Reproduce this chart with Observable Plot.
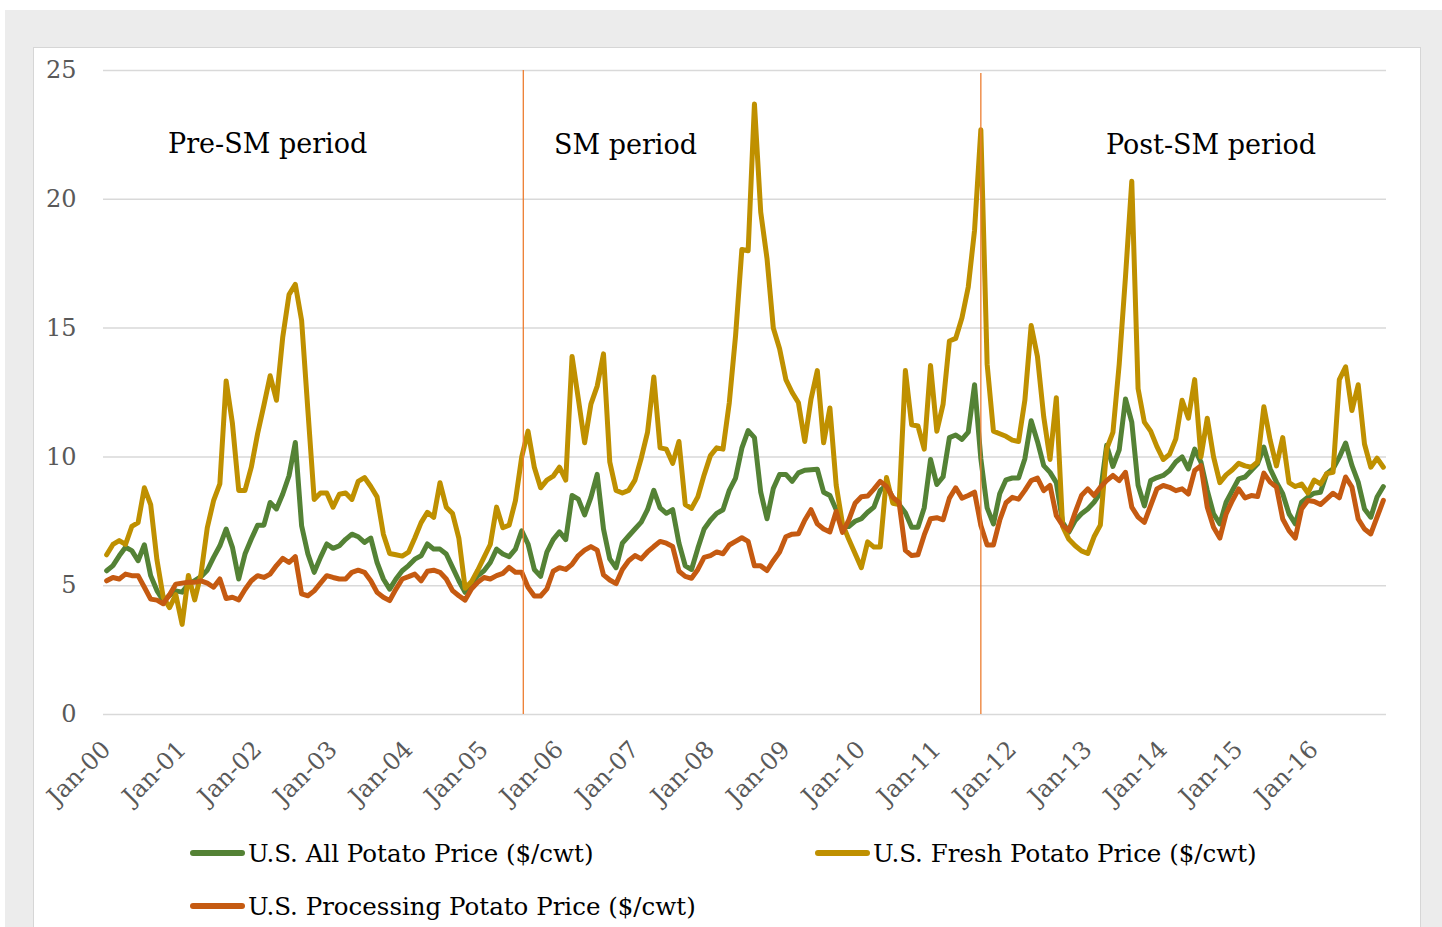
<!DOCTYPE html>
<html>
<head>
<meta charset="utf-8">
<script src="https://cdn.jsdelivr.net/npm/d3@7"></script>
<script src="https://cdn.jsdelivr.net/npm/@observablehq/plot@0.6"></script>
<style>
  html, body { margin: 0; padding: 0; background: #ffffff; }
  #page { position: relative; width: 1442px; height: 927px; overflow: hidden; font-family: "DejaVu Serif", serif; }
  #bg { position: absolute; left: 5px; top: 10px; right: 0; bottom: 0; background: #ececec; }
  #panel { position: absolute; left: 33px; top: 47px; width: 1388px; height: 920px; background: #ffffff; border: 1.5px solid #d6d6d6; box-sizing: border-box; }
  #chart { position: absolute; left: 0; top: 0; }
  .leg { position: absolute; height: 34px; display: flex; align-items: center; font-size: 24.5px; color: #000; white-space: nowrap; }
  .sw { width: 55px; height: 6px; border-radius: 3px; margin-right: 3px; }
</style>
</head>
<body>
<div id="page">
  <div id="bg"></div>
  <div id="panel"></div>
  <div id="chart"></div>
  <div id="legend"></div>
</div>
<script>
// ---- data (monthly, Jan-2000 .. Dec-2016), one row per year ----
const startYear = 2000;
const tickLabels = ["Jan-00","Jan-01","Jan-02","Jan-03","Jan-04","Jan-05","Jan-06","Jan-07","Jan-08",
                    "Jan-09","Jan-10","Jan-11","Jan-12","Jan-13","Jan-14","Jan-15","Jan-16"];
const yTicks = [0, 5, 10, 15, 20, 25];

const seriesNames = ["U.S. All Potato Price ($/cwt)", "U.S. Fresh Potato Price ($/cwt)", "U.S. Processing Potato Price ($/cwt)"];
const seriesColors = ["#548235", "#bf9000", "#c55a11"];

const allPrice = [
  5.58, 5.78, 6.16, 6.49, 6.36, 5.97, 6.59, 5.39, 4.81, 4.42, 4.62, 4.8,
  4.75, 5.05, 5.2, 5.35, 5.6, 6.1, 6.55, 7.2, 6.49, 5.26, 6.23, 6.81,
  7.35, 7.35, 8.23, 7.98, 8.56, 9.27, 10.56, 7.33, 6.23, 5.52, 6.1, 6.62,
  6.45, 6.55, 6.8, 7.0, 6.9, 6.68, 6.85, 5.9, 5.26, 4.87, 5.26, 5.58,
  5.78, 6.03, 6.16, 6.62, 6.42, 6.42, 6.23, 5.71, 5.19, 4.74, 5.06, 5.39,
  5.58, 5.9, 6.42, 6.23, 6.13, 6.42, 7.13, 6.62, 5.63, 5.36, 6.3, 6.79,
  7.09, 6.79, 8.5, 8.36, 7.75, 8.43, 9.32, 7.2, 6.04, 5.7, 6.65, 6.93,
  7.2, 7.47, 7.95, 8.7, 8.02, 7.81, 7.95, 6.65, 5.77, 5.63, 6.45, 7.2,
  7.54, 7.81, 7.95, 8.7, 9.18, 10.34, 11.02, 10.75, 8.63, 7.6, 8.77, 9.32,
  9.32, 9.05, 9.38, 9.48, 9.5, 9.52, 8.63, 8.5, 7.95, 7.3, 7.3, 7.5,
  7.6, 7.85, 8.05, 8.7, 8.9, 8.4, 8.15, 7.83, 7.27, 7.27, 8.03, 9.9,
  8.93, 9.23, 10.75, 10.85, 10.68, 10.96, 12.8, 9.93, 8.02, 7.4, 8.57, 9.11,
  9.18, 9.18, 9.93, 11.4, 10.6, 9.66, 9.4, 9.0, 7.46, 7.08, 7.53, 7.79,
  7.98, 8.24, 8.6, 10.45, 9.63, 10.27, 12.25, 11.35, 8.9, 8.1, 9.08, 9.2,
  9.28, 9.47, 9.8, 10.0, 9.53, 10.3, 9.8, 8.7, 7.79, 7.4, 8.24, 8.7,
  9.15, 9.22, 9.47, 9.73, 10.38, 9.54, 9.02, 8.57, 7.79, 7.4, 8.24, 8.44,
  8.59, 8.63, 9.35, 9.54, 9.99, 10.54, 9.67, 9.02, 7.98, 7.66, 8.44, 8.85
];

const freshPrice = [
  6.2, 6.6, 6.75, 6.6, 7.3, 7.45, 8.8, 8.15, 6.0, 4.55, 4.15, 4.65,
  3.5, 5.4, 4.45, 5.45, 7.25, 8.3, 8.95, 12.95, 11.3, 8.7, 8.7, 9.6,
  10.9, 12.0, 13.15, 12.2, 14.65, 16.3, 16.7, 15.3, 11.8, 8.35, 8.6, 8.6,
  8.05, 8.55, 8.6, 8.35, 9.05, 9.2, 8.85, 8.45, 7.0, 6.25, 6.2, 6.15,
  6.3, 6.85, 7.45, 7.85, 7.65, 9.0, 8.05, 7.8, 6.85, 4.9, 5.15, 5.6,
  6.1, 6.6, 8.05, 7.25, 7.35, 8.3, 10.0, 11.0, 9.6, 8.8, 9.1, 9.25,
  9.6, 9.1, 13.9, 12.25, 10.55, 12.05, 12.75, 14.0, 9.8, 8.7, 8.6, 8.7,
  9.1, 9.95, 10.95, 13.1, 10.35, 10.3, 9.75, 10.6, 8.15, 8.0, 8.45, 9.3,
  10.05, 10.35, 10.3, 12.1, 14.7, 18.05, 18.0, 23.7, 19.5, 17.7, 15.0, 14.2,
  13.0, 12.5, 12.1, 10.6, 12.25, 13.35, 10.55, 11.9, 8.9, 7.4, 6.8, 6.25,
  5.7, 6.7, 6.5, 6.5, 9.2, 8.2, 8.15, 13.35, 11.25, 11.2, 10.3, 13.55,
  11.0, 12.05, 14.5, 14.6, 15.4, 16.6, 18.8, 22.7, 13.6, 11.0, 10.9, 10.8,
  10.65, 10.6, 12.2, 15.1, 13.9, 11.55, 9.9, 12.3, 7.3, 6.8, 6.55, 6.35,
  6.25, 6.9, 7.35, 10.3, 10.95, 13.6, 17.0, 20.7, 12.65, 11.35, 11.0, 10.4,
  9.9, 10.1, 10.7, 12.2, 11.5, 13.0, 10.0, 11.5, 10.0, 9.0, 9.3, 9.5,
  9.75, 9.65, 9.6, 9.8, 11.95, 10.65, 9.65, 10.75, 9.0, 8.85, 8.95, 8.6,
  9.1, 8.95, 9.35, 9.4, 13.0, 13.5, 11.8, 12.8, 10.5, 9.6, 9.95, 9.6
];

const processingPrice = [
  5.19, 5.32, 5.26, 5.45, 5.39, 5.39, 4.94, 4.48, 4.44, 4.3, 4.65, 5.06,
  5.1, 5.13, 5.13, 5.19, 5.1, 4.94, 5.26, 4.5, 4.55, 4.45, 4.85, 5.19,
  5.39, 5.32, 5.45, 5.78, 6.06, 5.9, 6.13, 4.68, 4.61, 4.8, 5.1, 5.39,
  5.32, 5.26, 5.26, 5.52, 5.6, 5.52, 5.19, 4.74, 4.55, 4.42, 4.87, 5.26,
  5.35, 5.45, 5.19, 5.56, 5.6, 5.52, 5.26, 4.81, 4.61, 4.44, 4.87, 5.13,
  5.32, 5.26, 5.39, 5.48, 5.71, 5.52, 5.52, 4.94, 4.6, 4.6, 4.88, 5.56,
  5.7, 5.63, 5.83, 6.17, 6.38, 6.52, 6.38, 5.42, 5.22, 5.08, 5.63, 5.97,
  6.17, 6.04, 6.31, 6.52, 6.72, 6.65, 6.52, 5.56, 5.36, 5.29, 5.63, 6.1,
  6.17, 6.31, 6.24, 6.58, 6.72, 6.86, 6.72, 5.77, 5.77, 5.59, 5.97, 6.31,
  6.9, 7.0, 7.02, 7.54, 7.95, 7.4, 7.2, 7.09, 7.88, 7.07, 7.55, 8.2,
  8.45, 8.48, 8.75, 9.05, 8.85, 8.43, 8.23, 6.37, 6.17, 6.2, 6.97, 7.6,
  7.64, 7.56, 8.4, 8.8, 8.4, 8.5, 8.63, 7.34, 6.58, 6.58, 7.54, 8.22,
  8.43, 8.36, 8.7, 9.08, 9.18, 8.69, 8.89, 7.72, 7.34, 7.14, 7.85, 8.5,
  8.76, 8.5, 8.82, 9.08, 9.28, 9.08, 9.4, 8.05, 7.66, 7.46, 8.11, 8.76,
  8.89, 8.82, 8.69, 8.76, 8.56, 9.47, 9.66, 8.05, 7.27, 6.85, 7.79, 8.31,
  8.76, 8.41, 8.5, 8.46, 9.37, 9.02, 8.83, 7.59, 7.14, 6.85, 7.98, 8.31,
  8.27, 8.15, 8.37, 8.59, 8.41, 9.22, 8.83, 7.59, 7.2, 7.01, 7.66, 8.31
];

// period annotations (month index from Jan-2000, price level)
const periodLabels = ["Pre-SM period", "SM period", "Post-SM period"];
const periodLabelX = [25.6, 82.5, 175.6];
const periodLabelY = [22.13, 22.1, 22.1];
const breakX = [66.25, 139.0];
const breakTop = [25, 24.88];

// ---- build tables ----
const seriesValues = [allPrice, freshPrice, processingPrice];
const rows = seriesValues.flatMap((vals, s) => vals.map((v, i) => ({month: i, value: v, series: seriesNames[s]})));
const tickMonths = tickLabels.map((_, k) => k * 12);
const periods = periodLabels.map((t, k) => ({text: t, x: periodLabelX[k], y: periodLabelY[k]}));
const breaks = breakX.map((x, k) => ({x, top: breakTop[k]}));

const W = 1442, H = 830, yZero = 714;
const font = "'DejaVu Serif', serif";

const chart = Plot.plot({
  width: W,
  height: H,
  marginLeft: 103,
  marginRight: 56,
  marginTop: 70,
  marginBottom: H - yZero,
  style: {background: "transparent", fontFamily: font, color: "#595959", overflow: "visible"},
  x: {type: "linear", domain: [-0.5, 203.5]},
  y: {domain: [0, 25]},
  marks: [
    Plot.ruleY(yTicks, {stroke: "#d9d9d9", strokeWidth: 1.5}),
    Plot.axisY({ticks: yTicks, tickSize: 0, tickPadding: 27, fontSize: 24, label: null}),
    Plot.axisX({ticks: tickMonths, tickFormat: (m) => tickLabels[m / 12], tickRotate: -45,
                tickSize: 0, tickPadding: 31, fontSize: 24, label: null}),
    ...seriesNames.map((name, s) =>
      Plot.line(rows.filter(d => d.series === name), {
        x: "month", y: "value", stroke: seriesColors[s], strokeWidth: 5,
        strokeLinejoin: "round", strokeLinecap: "round"
      })),
    Plot.ruleX(breaks, {x: "x", y1: 0, y2: "top", stroke: "#ed7d31", strokeWidth: 1.3}),
    Plot.text(periods, {x: "x", y: "y", text: "text", fill: "#000", fontSize: 27, fontFamily: font})
  ]
});
document.getElementById("chart").appendChild(chart);

// ---- legend (HTML, placed below the plot frame) ----
const legendPos = [{left: 190, top: 853}, {left: 815, top: 853}, {left: 190, top: 906}];
const legend = document.getElementById("legend");
seriesNames.forEach((name, s) => {
  const item = document.createElement("div");
  item.className = "leg";
  item.style.left = legendPos[s].left + "px";
  item.style.top = (legendPos[s].top - 17) + "px";
  const sw = document.createElement("span");
  sw.className = "sw";
  sw.style.background = seriesColors[s];
  const label = document.createElement("span");
  label.textContent = name;
  item.appendChild(sw);
  item.appendChild(label);
  legend.appendChild(item);
});
</script>
</body>
</html>
